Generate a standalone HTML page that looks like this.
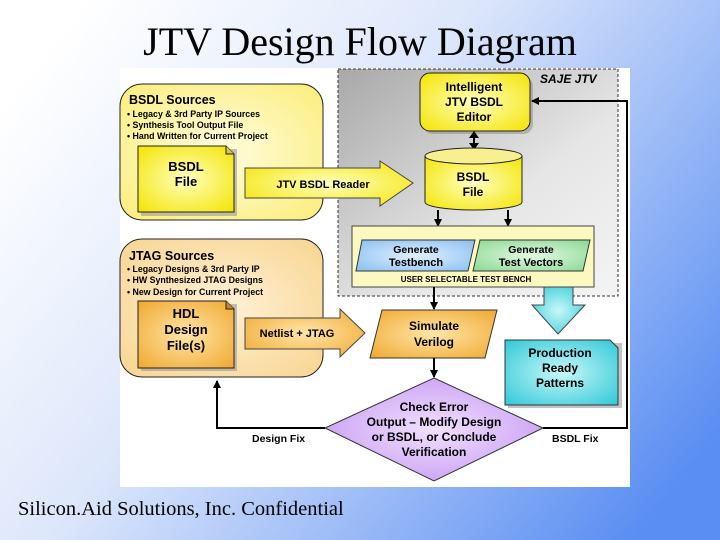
<!DOCTYPE html>
<html><head><meta charset="utf-8"><style>
html,body{margin:0;padding:0;width:720px;height:540px;overflow:hidden}
svg{display:block}
.b{font-family:"Liberation Sans",sans-serif;font-weight:bold;fill:#000}
</style></head><body>
<svg width="720" height="540" viewBox="0 0 720 540" xmlns="http://www.w3.org/2000/svg">
<defs>
<linearGradient id="bg" x1="0" y1="0.2" x2="1" y2="0.8">
<stop offset="0" stop-color="#ffffff"/><stop offset="0.4" stop-color="#dde7fb"/><stop offset="1" stop-color="#5a8ef2"/></linearGradient>
<linearGradient id="gray" x1="0" y1="0" x2="1" y2="1">
<stop offset="0" stop-color="#a8a8a8"/><stop offset="0.6" stop-color="#e6e6e6"/><stop offset="1" stop-color="#f4f4f4"/></linearGradient>
<radialGradient id="yel" cx="0.5" cy="0.5" r="0.7"><stop offset="0" stop-color="#fffde0"/><stop offset="1" stop-color="#fbed7a"/></radialGradient>
<radialGradient id="yel2" cx="0.5" cy="0.5" r="0.7"><stop offset="0" stop-color="#ffffc0"/><stop offset="1" stop-color="#f4e400"/></radialGradient>
<radialGradient id="org" cx="0.5" cy="0.5" r="0.7"><stop offset="0" stop-color="#fff1d8"/><stop offset="1" stop-color="#f8d590"/></radialGradient>
<radialGradient id="org2" cx="0.5" cy="0.5" r="0.7"><stop offset="0" stop-color="#ffe6a8"/><stop offset="1" stop-color="#f0a830"/></radialGradient>
<radialGradient id="blu" cx="0.5" cy="0.5" r="0.7"><stop offset="0" stop-color="#e0f0ff"/><stop offset="1" stop-color="#88bff0"/></radialGradient>
<radialGradient id="grn" cx="0.5" cy="0.5" r="0.7"><stop offset="0" stop-color="#e4f8e4"/><stop offset="1" stop-color="#88d890"/></radialGradient>
<radialGradient id="cyn" cx="0.5" cy="0.5" r="0.7"><stop offset="0" stop-color="#c8f8f8"/><stop offset="1" stop-color="#30c8d8"/></radialGradient>
<radialGradient id="pur" cx="0.5" cy="0.5" r="0.7"><stop offset="0" stop-color="#f2e0ff"/><stop offset="1" stop-color="#c090f0"/></radialGradient>
<marker id="ah" markerWidth="8" markerHeight="8" refX="7" refY="4" orient="auto" markerUnits="userSpaceOnUse"><path d="M0,0 L8,4 L0,8 z" fill="#000"/></marker>
</defs>
<rect width="720" height="540" fill="url(#bg)"/>
<text x="360" y="55" text-anchor="middle" font-family="Liberation Serif,serif" font-size="40" fill="#000">JTV Design Flow Diagram</text>
<text x="18" y="515" font-family="Liberation Serif,serif" font-size="20.5" fill="#000">Silicon.Aid Solutions, Inc. Confidential</text>

<rect x="120" y="68" width="510" height="419" fill="#fff"/>
<rect x="338" y="69" width="280" height="227" fill="url(#gray)" stroke="#333" stroke-dasharray="3,2" stroke-width="1"/>
<text x="540" y="83" class="b" font-size="12" font-style="italic">SAJE JTV</text>

<rect x="120" y="84" width="203" height="136" rx="22" fill="url(#yel)" stroke="#222" stroke-width="1"/>
<text x="129" y="104" class="b" font-size="12.5">BSDL Sources</text>
<text x="127" y="117" class="b" font-size="8.8">• Legacy &amp; 3rd Party IP Sources</text>
<text x="127" y="128" class="b" font-size="8.8">• Synthesis Tool Output File</text>
<text x="127" y="139" class="b" font-size="8.8">• Hand Written for Current Project</text>
<path d="M141,149 H237 V216 H141 Z" fill="#999" opacity="0.6"/>
<path d="M138,146 H226 L234,154 V212 H138 Z" fill="url(#yel2)" stroke="#222"/>
<path d="M226,146 L226,154 L234,154" fill="#d8c840" stroke="#222"/>
<text x="186" y="171" text-anchor="middle" class="b" font-size="13">BSDL</text>
<text x="186" y="186" text-anchor="middle" class="b" font-size="13">File</text>

<path d="M245,168 H380 V161 L413,183 L380,206 V198 H245 Z" fill="url(#yel2)" stroke="#444"/>
<text x="323" y="188" text-anchor="middle" class="b" font-size="11">JTV BSDL Reader</text>

<rect x="120" y="239" width="203" height="138" rx="22" fill="url(#org)" stroke="#222"/>
<text x="129" y="260" class="b" font-size="12.5">JTAG Sources</text>
<text x="127" y="272" class="b" font-size="8.8">• Legacy Designs &amp; 3rd Party IP</text>
<text x="127" y="283" class="b" font-size="8.8">• HW Synthesized JTAG Designs</text>
<text x="127" y="295" class="b" font-size="8.8">• New Design for Current Project</text>
<path d="M141,304 H237 V371 H141 Z" fill="#999" opacity="0.6"/>
<path d="M138,301 H226 L234,309 V368 H138 Z" fill="url(#org2)" stroke="#222"/>
<path d="M226,301 L226,309 L234,309" fill="#c88820" stroke="#222"/>
<text x="186" y="318" text-anchor="middle" class="b" font-size="13">HDL</text>
<text x="186" y="334" text-anchor="middle" class="b" font-size="13">Design</text>
<text x="186" y="350" text-anchor="middle" class="b" font-size="13">File(s)</text>

<path d="M245,318 H340 V309 L365,333 L340,357 V349 H245 Z" fill="url(#org2)" stroke="#444"/>
<text x="297" y="337" text-anchor="middle" class="b" font-size="11">Netlist + JTAG</text>

<rect x="423" y="76" width="110" height="58" rx="10" fill="#888" opacity="0.5"/>
<rect x="420" y="73" width="110" height="58" rx="10" fill="url(#yel2)" stroke="#222"/>
<text x="474" y="91" text-anchor="middle" class="b" font-size="12">Intelligent</text>
<text x="474" y="106" text-anchor="middle" class="b" font-size="12">JTV BSDL</text>
<text x="474" y="121" text-anchor="middle" class="b" font-size="12">Editor</text>
<line x1="474" y1="136" x2="474" y2="144" stroke="#000" stroke-width="2"/>
<path d="M469,138 L474,131 L479,138 Z M469,143 L474,150 L479,143 Z" fill="#000"/>

<path d="M425,156 V202 A48.5,8 0 0 0 522,202 V156" fill="url(#yel2)" stroke="#222"/>
<ellipse cx="473.5" cy="156" rx="48.5" ry="8" fill="#f8f090" stroke="#222"/>
<text x="473" y="181" text-anchor="middle" class="b" font-size="12">BSDL</text>
<text x="473" y="196" text-anchor="middle" class="b" font-size="12">File</text>
<line x1="438" y1="210" x2="438" y2="226" stroke="#000" stroke-width="2" marker-end="url(#ah)"/>
<line x1="508" y1="210" x2="508" y2="226" stroke="#000" stroke-width="2" marker-end="url(#ah)"/>

<rect x="352" y="226" width="242" height="61" fill="#fbf8c0" stroke="#444"/>
<path d="M362,240 H475 L468,271 H356 Z" fill="url(#blu)" stroke="#333"/>
<path d="M480,240 H590 L583,271 H473 Z" fill="url(#grn)" stroke="#333"/>
<text x="416" y="253" text-anchor="middle" class="b" font-size="10.5">Generate</text>
<text x="416" y="266" text-anchor="middle" class="b" font-size="11">Testbench</text>
<text x="531" y="253" text-anchor="middle" class="b" font-size="10.5">Generate</text>
<text x="531" y="266" text-anchor="middle" class="b" font-size="11">Test Vectors</text>
<text x="466" y="282" text-anchor="middle" class="b" font-size="8">USER SELECTABLE TEST BENCH</text>
<line x1="434" y1="287" x2="434" y2="309" stroke="#000" stroke-width="2" marker-end="url(#ah)"/>

<path d="M544,287 H573 V305 H585 L558,334 L532,305 H544 Z" fill="url(#cyn)" stroke="#444"/>

<path d="M382,310 H497 L485,358 H370 Z" fill="url(#org2)" stroke="#333"/>
<text x="434" y="330" text-anchor="middle" class="b" font-size="12">Simulate</text>
<text x="434" y="346" text-anchor="middle" class="b" font-size="12">Verilog</text>
<line x1="434" y1="358" x2="434" y2="377" stroke="#000" stroke-width="2" marker-end="url(#ah)"/>

<path d="M508,343 H622 V408 H508 Z" fill="#888" opacity="0.5"/>
<path d="M505,340 H610 L618,348 V405 H505 Z" fill="url(#cyn)" stroke="#333"/>
<text x="560" y="357" text-anchor="middle" class="b" font-size="12">Production</text>
<text x="560" y="372" text-anchor="middle" class="b" font-size="12">Ready</text>
<text x="560" y="387" text-anchor="middle" class="b" font-size="12">Patterns</text>

<polyline points="543,428 627,428 627,101 532,101" fill="none" stroke="#000" stroke-width="2" marker-end="url(#ah)"/>
<polyline points="325,428 217,428 217,381" fill="none" stroke="#000" stroke-width="2" marker-end="url(#ah)"/>
<text x="252" y="442" class="b" font-size="10.5">Design Fix</text>
<text x="552" y="442" class="b" font-size="10.5">BSDL Fix</text>

<path d="M434,378 L543,428 L434,481 L325,428 Z" fill="url(#pur)" stroke="#333"/>
<text x="434" y="411" text-anchor="middle" class="b" font-size="12">Check Error</text>
<text x="434" y="426" text-anchor="middle" class="b" font-size="12">Output – Modify Design</text>
<text x="434" y="441" text-anchor="middle" class="b" font-size="12">or BSDL, or Conclude</text>
<text x="434" y="456" text-anchor="middle" class="b" font-size="12">Verification</text>
</svg>
</body></html>
